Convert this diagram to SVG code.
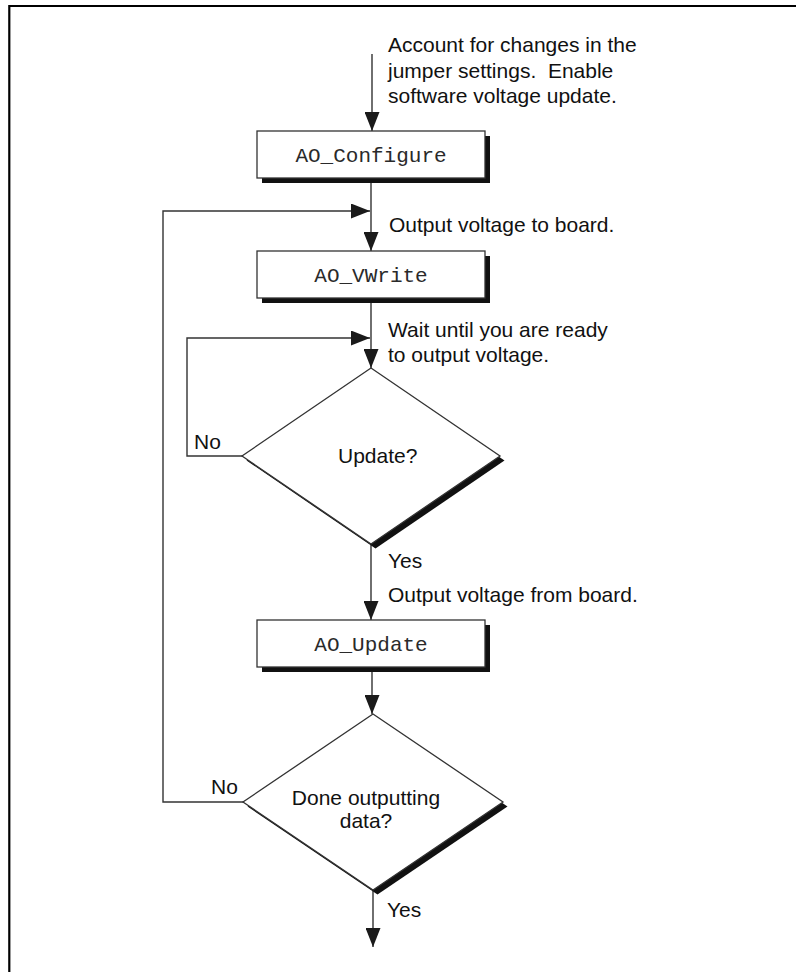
<svg xmlns="http://www.w3.org/2000/svg" width="796" height="972" viewBox="0 0 796 972">
<style>
.frame{stroke:#000;stroke-width:2.2;fill:none}
.conn{stroke:#333;stroke-width:1.4;fill:none}
.box{fill:#fff;stroke:#333;stroke-width:1.3}
.shadow{fill:#111}
.lbl{font-family:"Liberation Sans",Arial,sans-serif;font-size:21px;fill:#111}
.mono{font-family:"Liberation Mono","Courier New",monospace;font-size:21px;fill:#2a2a2a;text-anchor:middle}
</style>
<defs>
<marker id="ah" markerWidth="19" markerHeight="15" refX="19" refY="7.5" orient="auto" markerUnits="userSpaceOnUse">
<path d="M0,0 L19,7.5 L0,15 z" fill="#1a1a1a"/>
</marker>
</defs>
<rect width="796" height="972" fill="#fff"/>
<path class="frame" d="M9.3,972 V6 H796"/>

<g id="connectors">
<path class="conn" d="M372,54 V131" marker-end="url(#ah)"/>
<path class="conn" d="M371,178 V251" marker-end="url(#ah)"/>
<path class="conn" d="M243,802 H163 V211 H370" marker-end="url(#ah)"/>
<path class="conn" d="M371,298 V368" marker-end="url(#ah)"/>
<path class="conn" d="M242,456 H187 V338 H370" marker-end="url(#ah)"/>
<path class="conn" d="M371,544 V620" marker-end="url(#ah)"/>
<path class="conn" d="M372,667 V714" marker-end="url(#ah)"/>
<path class="conn" d="M373,890 V947" marker-end="url(#ah)"/>
</g>

<g id="note-top">
<text class="lbl" x="388" y="52">Account for changes in the</text>
<text class="lbl" x="388" y="77.5" xml:space="preserve">jumper settings.  Enable</text>
<text class="lbl" x="388" y="103">software voltage update.</text>
</g>

<g id="ao-configure">
<rect class="shadow" x="262" y="136" width="228" height="47"/>
<rect class="box" x="257" y="131" width="228" height="47"/>
<text class="mono" x="371" y="162">AO_Configure</text>
</g>

<g id="note-output">
<text class="lbl" x="389" y="232">Output voltage to board.</text>
</g>

<g id="ao-vwrite">
<rect class="shadow" x="262" y="256" width="228" height="47"/>
<rect class="box" x="257" y="251" width="228" height="47"/>
<text class="mono" x="371" y="282">AO_VWrite</text>
</g>

<g id="note-wait">
<text class="lbl" x="388" y="337">Wait until you are ready</text>
<text class="lbl" x="388" y="362">to output voltage.</text>
</g>

<g id="update-decision">
<polygon class="shadow" points="375.5,372.5 504.5,460.5 375.5,548.5 246.5,460.5"/>
<polygon class="box" points="371,368 500,456 371,544 242,456"/>
<text class="lbl" x="338" y="463">Update?</text>
<text class="lbl" x="194" y="449">No</text>
<text class="lbl" x="388" y="568">Yes</text>
</g>

<g id="note-output-from">
<text class="lbl" x="388" y="602">Output voltage from board.</text>
</g>

<g id="ao-update">
<rect class="shadow" x="262" y="625" width="228" height="47"/>
<rect class="box" x="257" y="620" width="228" height="47"/>
<text class="mono" x="371" y="651">AO_Update</text>
</g>

<g id="done-decision">
<polygon class="shadow" points="377.5,718.5 507.5,806.5 377.5,894.5 247.5,806.5"/>
<polygon class="box" points="373,714 503,802 373,890 243,802"/>
<text class="lbl" x="366" y="805" text-anchor="middle">Done outputting</text>
<text class="lbl" x="366" y="828" text-anchor="middle">data?</text>
<text class="lbl" x="211" y="794">No</text>
<text class="lbl" x="387" y="917">Yes</text>
</g>
</svg>
